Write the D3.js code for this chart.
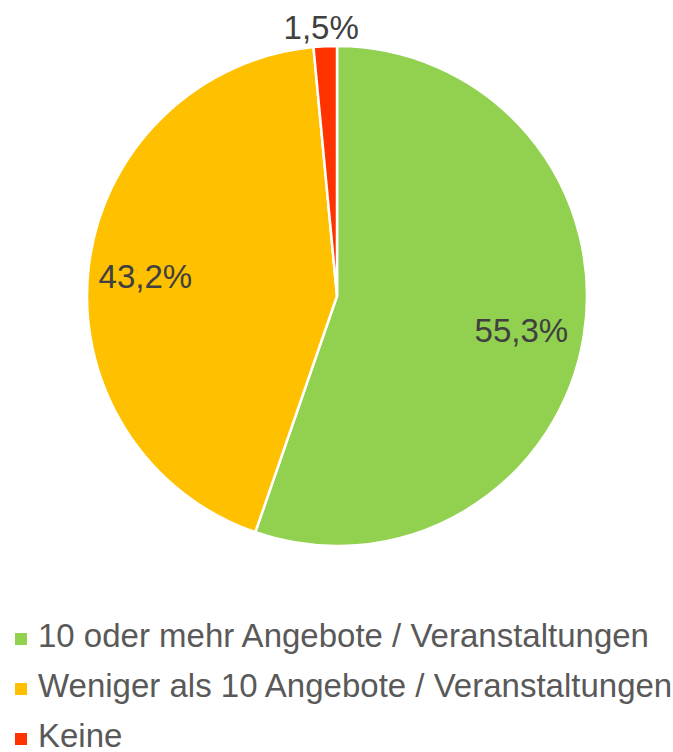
<!DOCTYPE html>
<html>
<head>
<meta charset="utf-8">
<script src="https://cdn.jsdelivr.net/npm/d3@7"></script>
<style>
  body { margin: 0; background: #fff; }
</style>
</head>
<body>
<div id="chart"></div>
<script>
const categories = ['10 oder mehr Angebote / Veranstaltungen', 'Weniger als 10 Angebote / Veranstaltungen', 'Keine'];
const values = [55.3, 43.2, 1.5];
const colors = ['#92D050', '#FFC000', '#FF3300'];

const width = 673, height = 752;
const cx = 337, cy = 296, radius = 250;
const font = 'Liberation Sans, Arial, sans-serif';
const fontSize = '33px';

const svg = d3.select('#chart')
    .append('svg')
    .attr('width', width)
    .attr('height', height)
    .attr('font-family', font);

const pie = d3.pie().sort(null).value(d => d.value);
const arcs = pie(categories.map((c, i) => ({name: c, value: values[i], color: colors[i]})));

const arc = d3.arc().innerRadius(0).outerRadius(radius);

const g = svg.append('g').attr('transform', `translate(${cx},${cy})`);

g.selectAll('path')
    .data(arcs)
    .join('path')
    .attr('d', arc)
    .attr('fill', d => d.data.color)
    .attr('stroke', '#fff')
    .attr('stroke-width', 2.5);

// big slices get their label inside, the tiny one sits just outside
const labelPos = d => {
    const a = (d.startAngle + d.endAngle) / 2;
    const big = d.endAngle - d.startAngle > 0.3;
    const r = big ? radius * 0.76 : radius + 22;
    return [Math.sin(a) * r, -Math.cos(a) * r];
};

g.selectAll('text.lbl')
    .data(arcs)
    .join('text')
    .attr('class', 'lbl')
    .attr('x', d => labelPos(d)[0] - 3)
    .attr('y', d => labelPos(d)[1] + 3)
    .attr('dy', '0.35em')
    .attr('text-anchor', 'middle')
    .style('font-size', fontSize)
    .attr('fill', '#404040')
    .text(d => d.data.value.toFixed(1).replace('.', ',') + '%');

const legend = svg.append('g').attr('transform', 'translate(15, 647)');
const rows = legend.selectAll('g')
    .data(arcs)
    .join('g')
    .attr('transform', (d, i) => `translate(0, ${i * 50})`);

rows.append('rect')
    .attr('x', 0)
    .attr('y', -14)
    .attr('width', 12)
    .attr('height', 12)
    .attr('fill', d => d.data.color);

rows.append('text')
    .attr('x', 23)
    .attr('y', 0)
    .style('font-size', fontSize)
    .attr('fill', '#595959')
    .text(d => d.data.name);
</script>
</body>
</html>
